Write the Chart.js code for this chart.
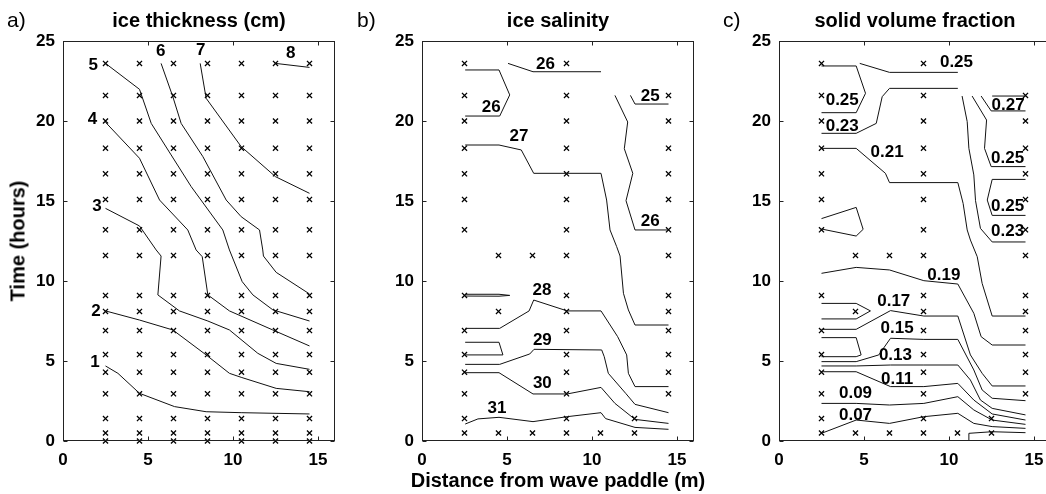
<!DOCTYPE html>
<html>
<head>
<meta charset="utf-8">
<script src="https://cdn.jsdelivr.net/npm/chart.js@4.4.0/dist/chart.umd.min.js"></script>
<style>
  html, body { margin: 0; padding: 0; background: #fff; overflow: hidden; }
  #page { position: relative; width: 1046px; height: 494px; overflow: hidden; font-family: "Liberation Sans", Arial, sans-serif; color: #000; }
  canvas { position: absolute; top: 0; }
  .txt { position: absolute; white-space: nowrap; transform: translate(-50%, -50%); }
  .ttl { font-weight: bold; font-size: 20px; }
  .pan { position: absolute; white-space: nowrap; font-size: 21px; transform: translateY(-50%); }
</style>
</head>
<body>
<div id="page">
  <canvas id="panelA" width="350" height="494" style="left:0px"></canvas>
  <canvas id="panelB" width="350" height="494" style="left:359px"></canvas>
  <canvas id="panelC" width="350" height="494" style="left:716px"></canvas>

  <div class="pan" style="left:7px; top:20px">a)</div>
  <div class="pan" style="left:357px; top:20px">b)</div>
  <div class="pan" style="left:723px; top:20px">c)</div>

  <div class="txt ttl" style="left:199px; top:20px">ice thickness (cm)</div>
  <div class="txt ttl" style="left:558px; top:20px">ice salinity</div>
  <div class="txt ttl" style="left:915px; top:20px">solid volume fraction</div>

  <div class="txt ttl" style="left:18px; top:241px; transform:translate(-50%,-50%) rotate(-90deg)">Time (hours)</div>
  <div class="txt ttl" style="left:558px; top:480px">Distance from wave paddle (m)</div>
</div>

<script>
// axis ticks
const xTicks = [0, 5, 10, 15];
const yTicks = [0, 5, 10, 15, 20, 25];

// sampling points (distance in m, time in hours)
const distances = [2.5, 4.5, 6.5, 8.5, 10.5, 12.5, 14.5];
const timesA = [0, 0.5, 1.4, 2.95, 4.3, 5.4, 6.9, 8.1, 9.1, 11.6, 13.2, 15.1, 16.7, 18.3, 20, 21.6, 23.6];
const timesBC = [0.5, 1.4, 2.95, 4.3, 5.4, 6.9, 8.1, 9.1, 11.6, 13.2, 15.1, 16.7, 18.3, 20, 21.6, 23.6];
const distBC = [
    [2.5, 4.5, 6.5, 8.5, 10.5, 12.5],
    [2.5, 8.5, 12.5],
    [2.5, 8.5, 14.5],
    [2.5, 8.5, 14.5],
    [2.5, 8.5, 14.5],
    [2.5, 8.5, 14.5],
    [4.5, 8.5, 14.5],
    [2.5, 8.5, 14.5],
    [4.5, 6.5, 8.5, 14.5],
    [2.5, 8.5, 14.5],
    [2.5, 8.5, 14.5],
    [2.5, 8.5, 14.5],
    [2.5, 8.5, 14.5],
    [2.5, 8.5, 14.5],
    [2.5, 8.5, 14.5],
    [2.5, 8.5]
];

// a) ice thickness contours, [distance, time]
const thicknessLines = [
    [[2.5, 4.69], [3.23, 4.23], [4.5, 2.98], [6.56, 2.15], [8.42, 1.83], [10.48, 1.77], [14.5, 1.69]],
    [[2.5, 8.13], [4.5, 7.56], [6.46, 6.94], [8.42, 5.38], [9.79, 4.23], [10.48, 3.98], [12.54, 3.29], [14.5, 3.08]],
    [[2.5, 14.54], [4.5, 13.44], [5.48, 11.94], [5.77, 11.56], [5.58, 9.13], [6.85, 8.13], [8.52, 7.5], [9.79, 6.94], [11.46, 5.48], [12.54, 4.85], [14.5, 4.48]],
    [[2.5, 19.92], [4.5, 17.67], [5.68, 15.06], [7.34, 13.19], [7.83, 11.94], [8.19, 11.52], [8.52, 9.13], [9.79, 8.13], [12.34, 6.94], [14.5, 5.94]],
    [[2.5, 23.6], [4.5, 21.98], [5.19, 19.85], [6.36, 17.88], [7.54, 15.9], [9.4, 13.19], [9.79, 11.94], [10.54, 9.96], [11.17, 9.13], [12.34, 8.2], [14.5, 7.5]],
    [[5.77, 23.6], [6.46, 21.52], [6.95, 19.85], [8.23, 17.77], [9.6, 15.06], [10.48, 14.02], [11.56, 13.19], [11.75, 11.94], [11.79, 11.56], [12.54, 10.54], [14.5, 9.19]],
    [[8.07, 23.6], [8.42, 21.42], [10.48, 18.4], [12.5, 16.52], [14.5, 15.48]],
    [[12.5, 23.6], [14.5, 23.35]]
];
const thicknessLabels = [
    ['1', 1.88, 4.9], ['2', 1.94, 8.13], ['3', 2.0, 14.65], ['4', 1.73, 20.1],
    ['5', 1.78, 23.5], ['6', 5.75, 24.33], ['7', 8.1, 24.44], ['8', 13.39, 24.23]
];

// b) ice salinity contours
const salinityLines = [
    [[2.54, 23.19], [4.53, 23.19], [5.16, 21.63], [4.57, 20.31], [2.54, 20.31]],
    [[5.06, 23.6], [6.53, 23.08], [10.53, 23.08]],
    [[12.26, 21.6], [12.53, 21.06], [14.5, 21.06]],
    [[11.35, 21.6], [12.1, 19.94], [11.9, 18.27], [12.4, 16.73], [12.0, 15.02], [12.53, 13.19], [14.5, 13.19]],
    [[2.54, 18.5], [4.53, 18.5], [5.84, 18.19], [6.57, 16.73], [10.53, 16.73], [10.86, 15.06], [11.06, 13.19], [11.45, 12.15], [11.65, 11.56], [11.85, 9.23], [12.14, 8.19], [12.53, 7.25], [14.5, 7.25]],
    [[2.54, 9.17], [4.53, 9.17], [5.16, 9.1], [4.53, 9.05], [2.54, 9.06]],
    [[2.54, 7.04], [4.57, 7.04], [6.3, 8.13], [6.57, 8.81], [8.54, 8.13], [10.53, 8.13], [11.51, 6.52], [12.04, 5.38], [12.14, 4.23], [12.53, 3.4], [14.5, 3.4]],
    [[2.54, 6.17], [4.53, 6.17], [4.76, 5.38], [2.54, 5.38]],
    [[2.54, 4.79], [4.57, 4.79], [6.34, 5.44], [6.59, 5.73], [10.57, 5.69], [10.72, 5.27], [10.96, 4.23], [11.98, 2.98], [12.53, 2.29], [14.5, 1.77]],
    [[2.54, 4.27], [4.53, 4.27], [6.53, 2.94], [8.54, 2.94], [10.53, 3.35], [11.35, 2.35], [12.53, 1.35], [14.5, 1.1]],
    [[2.54, 1.06], [3.29, 1.38], [4.53, 1.48], [6.53, 1.21], [8.54, 1.52], [10.53, 1.77], [10.8, 1.4], [12.53, 0.85], [14.5, 0.73]]
];
const salinityLabels = [
    ['26', 4.07, 20.85], ['26', 7.26, 23.54], ['25', 13.42, 21.52], ['27', 5.7, 19.02],
    ['26', 13.42, 13.71], ['28', 7.06, 9.44], ['29', 7.08, 6.31], ['30', 7.08, 3.6], ['31', 4.41, 2.04]
];

// c) solid volume fraction contours
const fractionLines = [
    [[4.75, 23.6], [6.5, 23.04], [10.52, 23.04]],
    [[2.5, 23.44], [4.54, 23.44], [5.09, 21.73], [4.54, 20.52], [2.5, 20.52]],
    [[2.5, 19.23], [4.54, 19.23], [5.72, 19.85], [6.07, 21.52], [6.5, 22.04], [10.52, 22.04]],
    [[2.5, 18.29], [4.54, 18.29], [6.26, 16.73], [6.5, 16.15], [10.52, 16.15], [10.83, 14.85], [11.07, 13.19], [11.26, 12.56], [11.66, 11.52], [11.95, 9.85], [12.54, 7.81], [14.5, 7.81]],
    [[10.77, 21.56], [11.07, 19.96], [11.17, 18.29], [11.46, 16.63], [11.56, 15.02], [11.85, 13.29], [12.54, 12.44], [14.5, 12.44]],
    [[11.36, 21.56], [12.21, 20.06], [12.09, 18.29], [12.48, 17.15], [14.5, 17.15]],
    [[11.89, 21.56], [12.48, 20.63], [14.5, 20.63]],
    [[12.54, 21.56], [14.5, 21.56]],
    [[14.5, 16.35], [12.54, 16.35], [12.25, 15.06], [12.54, 14.1], [14.5, 14.1]],
    [[2.5, 13.9], [4.54, 14.6], [4.95, 13.23], [4.54, 12.81], [2.5, 13.25]],
    [[2.5, 10.48], [4.54, 10.85], [6.5, 10.69], [8.52, 10.02], [10.52, 9.81], [11.46, 7.98], [11.89, 6.52], [12.54, 6.0], [14.5, 6.0]],
    [[2.5, 8.6], [4.54, 8.6], [5.38, 8.13], [4.54, 7.63], [2.5, 7.63]],
    [[2.5, 6.98], [4.54, 6.98], [6.56, 8.15], [8.52, 7.81], [10.52, 7.81], [11.26, 5.38], [11.95, 4.23], [12.54, 3.44], [14.5, 3.44]],
    [[2.5, 6.46], [4.54, 6.46], [4.83, 5.38], [4.54, 5.27], [2.5, 5.27]],
    [[2.5, 4.96], [4.54, 4.96], [5.87, 5.38], [6.56, 6.42], [8.52, 6.35], [10.52, 6.35], [11.46, 4.44], [11.95, 3.19], [12.54, 2.67], [14.5, 2.52]],
    [[2.5, 4.69], [4.54, 4.69], [6.56, 4.75], [8.52, 4.75], [10.52, 4.75], [11.26, 3.81], [11.85, 2.56], [12.54, 2.04], [14.5, 1.63]],
    [[2.5, 4.33], [4.54, 4.33], [6.56, 3.4], [8.52, 3.4], [10.52, 3.6], [11.46, 2.56], [12.54, 1.69], [14.5, 1.31]],
    [[2.5, 2.35], [4.54, 2.35], [6.5, 2.25], [8.52, 2.35], [10.52, 2.77], [11.46, 1.94], [12.54, 1.31], [14.5, 1.04]],
    [[2.5, 0.48], [4.54, 1.31], [6.5, 1.1], [8.52, 1.52], [10.52, 1.73], [11.46, 1.1], [12.54, 0.9], [14.5, 0.79]],
    [[11.17, 0], [11.17, 0.48], [12.54, 0.58], [14.5, 0.52]]
];
const fractionLabels = [
    ['0.25', 10.44, 23.67], ['0.25', 3.72, 21.31], ['0.23', 3.72, 19.68], ['0.21', 6.36, 18.02],
    ['0.27', 13.48, 21.0], ['0.25', 13.45, 17.67], ['0.25', 13.45, 14.65], ['0.23', 13.45, 13.08],
    ['0.19', 9.7, 10.38], ['0.17', 6.75, 8.71], ['0.15', 6.95, 7.04], ['0.13', 6.85, 5.38],
    ['0.11', 6.95, 3.85], ['0.09', 4.5, 2.98], ['0.07', 4.5, 1.63]
];

const FONT = '"Liberation Sans", Arial, sans-serif';

// box with inward tick marks on all four sides
const framePlugin = {
    id: 'frame',
    afterDraw(chart) {
        const { ctx, chartArea: a, scales: { x, y } } = chart;
        const L = Math.round(a.left) + 0.5, R = Math.round(a.right) - 0.5;
        const T = Math.round(a.top) + 0.5, B = Math.round(a.bottom) - 0.5;
        ctx.save();
        ctx.strokeStyle = '#222';
        ctx.lineWidth = 1;
        ctx.strokeRect(L, T, R - L, B - T);
        ctx.beginPath();
        xTicks.forEach(v => {
            const px = Math.round(x.getPixelForValue(v)) + 0.5;
            ctx.moveTo(px, B); ctx.lineTo(px, B - 4);
            ctx.moveTo(px, T); ctx.lineTo(px, T + 4);
        });
        yTicks.forEach(v => {
            const py = Math.round(y.getPixelForValue(v)) + 0.5;
            ctx.moveTo(L, py); ctx.lineTo(L + 4, py);
            ctx.moveTo(R, py); ctx.lineTo(R - 4, py);
        });
        ctx.stroke();
        ctx.restore();
    }
};

// contour level labels
const labelPlugin = {
    id: 'contourLabels',
    afterDatasetsDraw(chart, args, opts) {
        const { ctx, scales: { x, y } } = chart;
        ctx.save();
        ctx.fillStyle = '#000';
        ctx.font = 'bold 17px ' + FONT;
        ctx.textAlign = 'center';
        ctx.textBaseline = 'middle';
        (opts.items || []).forEach(([txt, d, t]) => {
            ctx.fillText(txt, x.getPixelForValue(d), y.getPixelForValue(t));
        });
        ctx.restore();
    }
};

function makePanel(id, lines, labels, samples) {
    const datasets = lines.map(pts => ({
        data: pts.map(p => ({ x: p[0], y: p[1] })),
        showLine: true,
        borderColor: '#111',
        borderWidth: 1,
        pointRadius: 0,
        tension: 0
    }));
    datasets.push({
        data: samples,
        showLine: false,
        pointStyle: 'crossRot',
        pointRadius: 3.6,
        borderColor: '#000',
        borderWidth: 1.3,
        clip: false
    });
    const tickFont = { family: FONT, size: 17, weight: 'bold' };
    new Chart(document.getElementById(id), {
        type: 'scatter',
        data: { datasets },
        plugins: [framePlugin, labelPlugin],
        options: {
            responsive: false,
            animation: false,
            events: [],
            layout: { padding: { top: 41, right: 15, left: 0, bottom: 0 } },
            plugins: {
                legend: { display: false },
                tooltip: { enabled: false },
                contourLabels: { items: labels }
            },
            scales: {
                x: {
                    type: 'linear', min: 0, max: 16,
                    afterBuildTicks: s => { s.ticks = xTicks.map(v => ({ value: v })); },
                    afterFit: s => { s.height = 53; },
                    grid: { display: false, drawTicks: false },
                    border: { display: false },
                    ticks: { font: tickFont, color: '#000', padding: 9, maxRotation: 0, autoSkip: false }
                },
                y: {
                    type: 'linear', min: 0, max: 25,
                    afterBuildTicks: s => { s.ticks = yTicks.map(v => ({ value: v })); },
                    afterFit: s => { s.width = 63; },
                    grid: { display: false, drawTicks: false },
                    border: { display: false },
                    ticks: { font: tickFont, color: '#000', padding: 8, autoSkip: false }
                }
            }
        }
    });
}

const samplesA = timesA.flatMap(t => distances.map(d => ({ x: d, y: t })));
const samplesBC = timesBC.flatMap((t, i) => distBC[i].map(d => ({ x: d, y: t })));

makePanel('panelA', thicknessLines, thicknessLabels, samplesA);
makePanel('panelB', salinityLines, salinityLabels, samplesBC);
makePanel('panelC', fractionLines, fractionLabels, samplesBC);
</script>
</body>
</html>
